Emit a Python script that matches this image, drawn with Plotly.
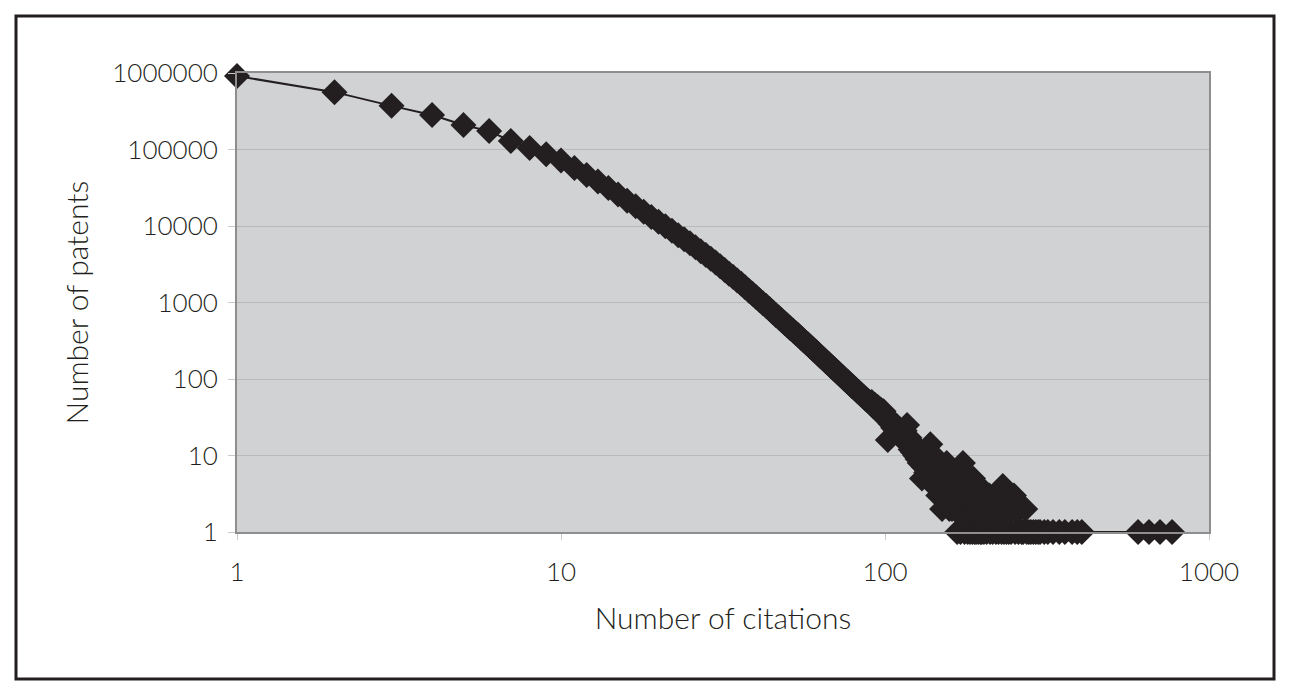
import plotly.graph_objects as go

# ---- data (log-log distribution) ----
head_citations = list(range(1, 100))
head_patents = [
    912000, 562000, 372000, 282000, 209000, 174000, 129000, 105000, 87000, 72000,
    57300, 46400, 38300, 31400, 25800, 21400, 18100, 15300, 13100, 11400,
    9900, 8670, 7590, 6730, 5970, 5270, 4690, 4170, 3730, 3330,
    2980, 2660, 2380, 2160, 1945, 1755, 1580, 1425, 1300, 1180,
    1070, 980, 897, 821, 751, 687, 635, 586, 541, 500,
    461, 430, 400, 372, 347, 322, 300, 282, 262, 245,
    230, 216, 202, 190, 178, 167, 158, 148, 140, 132,
    125, 119, 112, 106, 100, 95, 91, 86, 81, 78,
    74, 70, 67, 64, 61, 58, 55, 53, 51, 49,
    50, 44, 46, 41, 43, 37, 40, 34, 38,
]

mid_citations = list(range(100, 140))
mid_patents = [
    33, 30, 16, 29, 26, 28, 23, 25, 21, 24,
    19, 22, 18, 20, 16, 21, 15, 25, 14, 17,
    12, 15, 11, 13, 10, 12, 9, 11, 8, 10,
    5, 9, 7, 10, 6, 8, 7, 9, 14, 5,
]

tail_citations = [
    140, 141, 142, 143, 144, 145, 146, 147, 148, 149,
    150, 151, 152, 153, 154, 155, 156, 157, 158, 159,
    160, 161, 162, 163, 164, 165, 166, 167, 168, 169,
    170, 171, 172, 173, 174, 175, 176, 177, 178, 179,
    180, 181, 182, 183, 184, 185, 186, 187, 188, 189,
    190, 191, 192, 193, 194, 195, 196, 197, 198, 199,
    200, 202, 203, 205, 206, 208, 210, 211, 213, 215,
    217, 219, 220, 222, 224, 226, 228, 229, 231, 233,
    235, 237, 239, 241, 243, 245, 247, 250, 252, 255,
    258, 261, 264, 267, 271, 274, 278, 282, 287, 292,
    297, 301, 310, 318, 330, 345, 359, 378, 392, 405,
    604, 653, 706, 769,
]
tail_patents = [
    6, 8, 4, 7, 5, 9, 3, 6, 4, 7,
    2, 5, 3, 6, 4, 8, 3, 5, 2, 4,
    6, 2, 5, 3, 2, 4, 2, 1, 5, 2,
    3, 1, 4, 2, 8, 3, 1, 2, 5, 2,
    1, 3, 2, 1, 3, 2, 1, 5, 2, 1,
    3, 1, 2, 3, 1, 4, 2, 1, 3, 1,
    2, 1, 3, 2, 1, 2, 3, 1, 2, 1,
    2, 3, 1, 2, 1, 3, 2, 1, 4, 1,
    2, 1, 2, 1, 3, 1, 2, 3, 1, 2,
    1, 2, 1, 1, 2, 1, 1, 1, 1, 1,
    1, 1, 1, 1, 1, 1, 1, 1, 1, 1,
    1, 1, 1, 1,
]

x_tick_vals = [1, 10, 100, 1000]
x_tick_text = ["1", "10", "100", "1000"]
y_tick_vals = [1, 10, 100, 1000, 10000, 100000, 1000000]
y_tick_text = ["1", "10", "100", "1000", "10000", "100000", "1000000"]
x_title = "Number of citations"
y_title = "Number of patents"

citations = head_citations + mid_citations + tail_citations
patents = head_patents + mid_patents + tail_patents

INK = "#231f20"
TXT = "#231f20"
FONT = "Lato, Liberation Sans, Arial, sans-serif"

fig = go.Figure()
fig.add_trace(go.Scatter(
    x=citations, y=patents,
    mode="lines+markers",
    line=dict(color=INK, width=2),
    marker=dict(symbol="diamond", size=20, color=INK, line=dict(width=0)),
    cliponaxis=False,
    showlegend=False,
    hoverinfo="x+y",
))

# page body has an 8px margin; coordinates below are page pixels
OFF = 8
W, H = 1294 - 2 * OFF, 697 - 2 * OFF
L, R, T, B = 237 - OFF, 1209 - OFF, 73 - OFF, 532 - OFF
pw, ph = R - L, B - T


def px_x(px):
    return (px - OFF - L) / pw


def px_y(py):
    return (B - (py - OFF)) / ph


fig.add_shape(type="rect", xref="paper", yref="paper",
              x0=px_x(16), x1=px_x(1274), y0=px_y(679), y1=px_y(16),
              line=dict(color=INK, width=3), fillcolor="rgba(0,0,0,0)",
              layer="below")

tick_font = dict(size=26, color=TXT, family=FONT, weight=300)
title_font = dict(size=30, color=TXT, family=FONT, weight=300)

fig.add_annotation(
    text=y_title, xref="paper", yref="paper",
    x=px_x(75), y=0.5, xanchor="center", yanchor="middle",
    textangle=-90, showarrow=False, font=title_font,
)

fig.update_layout(
    width=W, height=H,
    margin=dict(l=L, r=W - R, t=T, b=H - B, pad=0),
    paper_bgcolor="white",
    plot_bgcolor="#d1d2d4",
    font=dict(family=FONT, color=TXT, size=26),
    xaxis=dict(
        type="log", range=[0, 3],
        tickvals=x_tick_vals, ticktext=x_tick_text,
        showgrid=False, zeroline=False,
        showline=True, mirror=True, linecolor="#8e8e8e", linewidth=2,
        ticks="outside", ticklen=6, tickwidth=1, tickcolor="#c9c9c9",
        ticklabelstandoff=10,
        tickfont=tick_font,
        title=dict(text=x_title, standoff=22, font=title_font),
        automargin=False,
    ),
    yaxis=dict(
        type="log", range=[0, 6],
        tickvals=y_tick_vals, ticktext=y_tick_text,
        showgrid=True, gridcolor="#b9babd", gridwidth=1,
        zeroline=False,
        showline=True, mirror=True, linecolor="#8e8e8e", linewidth=2,
        ticks="outside", ticklen=7, tickwidth=1, tickcolor="#c9c9c9",
        ticklabelstandoff=5,
        tickfont=tick_font,
        automargin=False,
    ),
)

fig.write_html("out.html")
